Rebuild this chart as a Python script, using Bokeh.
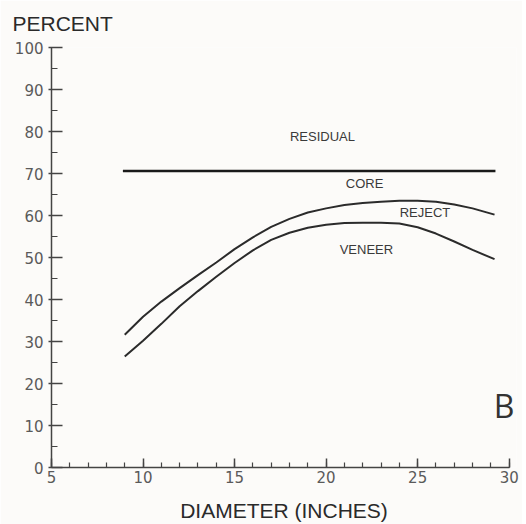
from bokeh.plotting import figure
from bokeh.models import FixedTicker, Label, Title
from bokeh.embed import file_html
from bokeh.resources import INLINE

# ---- data ----
diameter = [9, 10, 11, 12, 13, 14, 15, 16, 17, 18, 19, 20, 21, 22, 23, 24, 25, 26, 27, 28, 29.2]
reject = [31.6, 35.9, 39.5, 42.7, 45.8, 48.8, 52.0, 54.8, 57.3, 59.2, 60.7, 61.7, 62.5, 63.0, 63.3, 63.5, 63.5, 63.3, 62.6, 61.7, 60.2]
veneer = [26.4, 30.2, 34.2, 38.4, 42.0, 45.4, 48.7, 51.7, 54.2, 55.9, 57.1, 57.8, 58.2, 58.3, 58.3, 58.1, 57.2, 55.7, 53.8, 51.8, 49.6]
residual_x = [8.9, 29.25]
residual_y = [70.6, 70.6]

x_ticks = [5, 10, 15, 20, 25, 30]
x_minor = list(range(5, 31))
y_ticks = list(range(0, 101, 10))
y_minor = list(range(0, 101, 5))

bg = "#fcfbf9"
ink = "#2b2b2b"

W, H = 522, 524
X_END = 30.4
frame_right = 51 + round((X_END - 5) * 18.32)
p = figure(width=W, height=H, x_range=(5, X_END), y_range=(0, 100),
           output_backend="svg", toolbar_location=None,
           min_border_left=51, min_border_right=W - frame_right, min_border_top=47, min_border_bottom=H - 467,
           background_fill_color=bg, border_fill_color=bg)
p.outline_line_color = None
p.grid.visible = False

p.title = Title(text="PERCENT", align="left", offset=-39, standoff=21, vertical_align="top",
                text_font="Liberation Sans", text_font_size="21px",
                text_font_style="normal", text_color="#2a2a2a")

p.line(residual_x, residual_y, line_color="#1a1a1a", line_width=2.6)
p.line(diameter, reject, line_color=ink, line_width=2.0, line_join="round")
p.line(diameter, veneer, line_color=ink, line_width=2.0, line_join="round")

for ax in (p.xaxis[0], p.yaxis[0]):
    ax.axis_line_color = "#444444"
    ax.axis_line_width = 1.5
    ax.major_tick_line_color = "#444444"
    ax.minor_tick_line_color = "#444444"
    ax.major_tick_line_width = 1.5
    ax.minor_tick_line_width = 1.2
    ax.major_label_text_font = "DejaVu Sans"
    ax.major_label_text_font_size = "15px"
    ax.major_label_text_color = "#5a5a5a"

xa = p.xaxis[0]
xa.ticker = FixedTicker(ticks=x_ticks, minor_ticks=x_minor)
xa.bounds = (5, 30)
xa.major_tick_in = 9
xa.major_tick_out = 0
xa.minor_tick_in = 5
xa.minor_tick_out = 0
xa.major_label_standoff = 3
xa.axis_label = "DIAMETER (INCHES)"
xa.axis_label_text_font = "Liberation Sans"
xa.axis_label_text_font_size = "21px"
xa.axis_label_text_font_style = "normal"
xa.axis_label_text_color = "#2a2a2a"
xa.axis_label_standoff = 13

ya = p.yaxis[0]
ya.ticker = FixedTicker(ticks=y_ticks, minor_ticks=y_minor)
ya.major_tick_in = 11
ya.major_tick_out = 3
ya.minor_tick_in = 6
ya.minor_tick_out = 0
ya.major_label_standoff = 5

lab_font = "Liberation Sans"
for txt, x, y in [("RESIDUAL", 19.8, 78.7), ("CORE", 22.1, 67.7), ("REJECT", 25.4, 60.6), ("VENEER", 22.2, 52.0)]:
    p.add_layout(Label(x=x, y=y, text=txt, text_align="center", text_baseline="middle",
                       text_font=lab_font, text_font_size="13px", text_color="#3a3a3a"))

p.add_layout(Label(x=29.72, y=14.7, text="B", text_align="center", text_baseline="middle",
                   text_font="Open Sans", text_font_size="32px", text_color="#333333"))

open("out.html", "w").write(file_html(p, INLINE))
